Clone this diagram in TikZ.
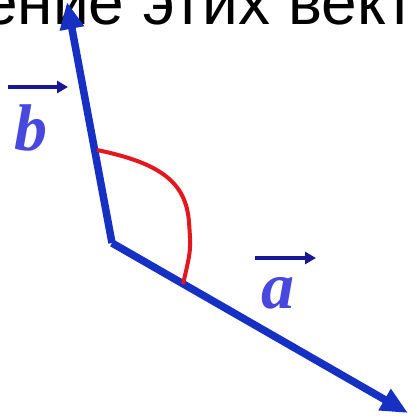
\documentclass[tikz,border=0pt]{standalone}
\usepackage{fontspec}
\setmainfont{Liberation Serif}
\newfontfamily\titlefont{Liberation Sans}
\usetikzlibrary{arrows.meta}

\definecolor{vecblue}{RGB}{22,48,196}
\definecolor{lblblue}{RGB}{72,72,222}
\definecolor{arrblue}{RGB}{24,24,150}
\definecolor{anglered}{RGB}{226,24,30}

\tikzset{
  vec/.style={draw=vecblue, line width=7.5pt, -{Triangle[length=27pt,width=23pt]}},
  lblarrow/.style={draw=arrblue, line width=3.5pt, -{Triangle[length=11pt,width=12pt]}},
  veclbl/.style={text=lblblue, inner sep=0pt, font=\fontsize{66}{66}\selectfont\bfseries\itshape},
}

\begin{document}
\begin{tikzpicture}[x=1pt,y=-1pt]
    \useasboundingbox (0,0) rectangle (411,416);
    \clip (0,0) rectangle (411,416);
    \fill[white] (0,0) rectangle (411,416);

    % Title line, cut at the top
    \node[anchor=base west, inner sep=0pt, font=\titlefont\fontsize{64}{64}\selectfont] (title) at (-18,24) {ение этих вект};

    % Vectors
    \coordinate (O) at (112,243);
    \coordinate (A) at (408,413);
    \coordinate (B) at (67,2);
    \draw[vec] (O) -- (A);
    \draw[vec] (O) -- (B);

    % Angle between them
    \coordinate (p) at (97,150);
    \coordinate (q) at (183,284);
    \draw[anglered, line width=4pt] (p) .. controls (160,163) and (186,182) .. (189,222)
        .. controls (191,250) .. (q);

    % Labels
    \node[veclbl, anchor=base] (lb) at (31,150) {b};
    \coordinate (lb1) at (8,87);
    \coordinate (lb2) at (68,87);
    \draw[lblarrow] (lb1) -- (lb2);

    \node[veclbl, anchor=base] (la) at (278,308) {a};
    \coordinate (la1) at (255,258);
    \coordinate (la2) at (316,258);
    \draw[lblarrow] (la1) -- (la2);
\end{tikzpicture}
\end{document}
